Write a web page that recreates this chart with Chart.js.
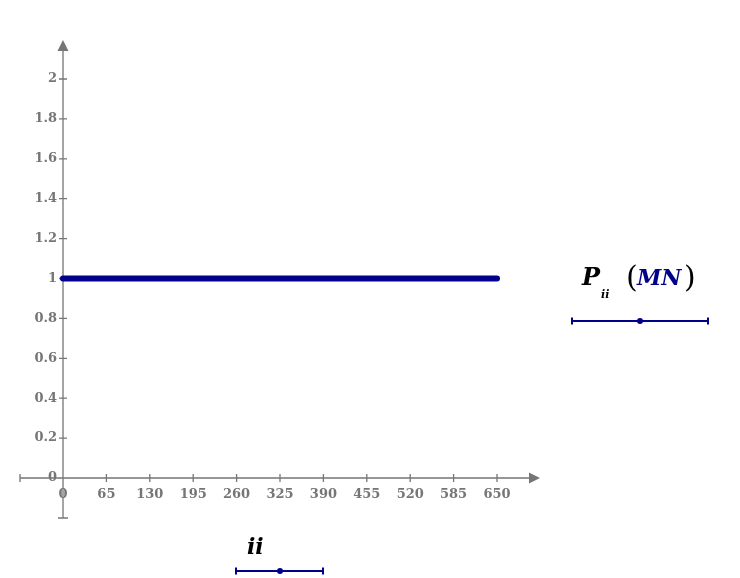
<!DOCTYPE html>
<html>
<head>
<meta charset="utf-8">
<script src="https://cdn.jsdelivr.net/npm/chart.js@4"></script>
<style>
  body { margin: 0; background: #fff; }
  #wrap { position: relative; width: 740px; height: 578px; }
  canvas { position: absolute; left: 0; top: 0; }
  .lbl { position: absolute; font-family: "DejaVu Serif", serif; font-weight: bold; font-style: italic; white-space: nowrap; line-height: 1; }
</style>
</head>
<body>
<div id="wrap">
  <canvas id="grafica" width="740" height="578"></canvas>
  <span class="lbl" style="left:247px; top:535px; font-size:22px; color:#000;">ii</span>
  <span class="lbl" style="left:582px; top:265px; font-size:24px; color:#000;">P</span>
  <span class="lbl" style="left:601px; top:289px; font-size:11px; color:#000;">ii</span>
  <span class="lbl" style="left:626px; top:262px; font-size:30px; color:#000; font-style:normal; font-weight:normal;">(</span>
  <span class="lbl" style="left:637px; top:266px; font-size:22px; color:#00008b;">MN</span>
  <span class="lbl" style="left:684px; top:262px; font-size:30px; color:#000; font-style:normal; font-weight:normal;">)</span>
</div>
<script>
// --- DATOS ---
const valoresII = [0, 650];
const valoresP = [1, 1];
const ticksX = [0, 65, 130, 195, 260, 325, 390, 455, 520, 585, 650];
const ticksY = [0, 0.2, 0.4, 0.6, 0.8, 1, 1.2, 1.4, 1.6, 1.8, 2];

const GRIS = '#767676';
const AZUL = '#00008b';

// --- EJES ESTILO MATHCAD ---
const ejesPlugin = {
    id: 'ejes',
    beforeDatasetsDraw(chart) {
        const ctx = chart.ctx;
        const sx = chart.scales.x, sy = chart.scales.y;
        const x0 = sx.getPixelForValue(0), y0 = sy.getPixelForValue(0);
        const left = chart.chartArea.left, right = chart.chartArea.right;
        const top = chart.chartArea.top, bottom = chart.chartArea.bottom;
        ctx.save();
        ctx.strokeStyle = GRIS; ctx.fillStyle = GRIS; ctx.lineWidth = 1.3;
        // eje x
        ctx.beginPath();
        ctx.moveTo(left, y0); ctx.lineTo(right - 8, y0);
        ctx.moveTo(left, y0 - 4); ctx.lineTo(left, y0 + 4);
        // eje y
        ctx.moveTo(x0, bottom); ctx.lineTo(x0, top + 8);
        ctx.moveTo(x0 - 5, bottom); ctx.lineTo(x0 + 5, bottom);
        ticksX.forEach(v => {
            const px = sx.getPixelForValue(v);
            if (v !== 0) { ctx.moveTo(px, y0 - 4); ctx.lineTo(px, y0 + 4); }
        });
        ticksY.forEach(v => {
            const py = sy.getPixelForValue(v);
            ctx.moveTo(x0 - 4, py); ctx.lineTo(x0 + 4, py);
        });
        ctx.stroke();
        // flechas
        ctx.beginPath();
        ctx.moveTo(right, y0); ctx.lineTo(right - 11, y0 - 5.5); ctx.lineTo(right - 11, y0 + 5.5); ctx.closePath();
        ctx.moveTo(x0, top); ctx.lineTo(x0 - 5.5, top + 11); ctx.lineTo(x0 + 5.5, top + 11); ctx.closePath();
        ctx.fill();
        // etiquetas
        ctx.font = 'bold 13px "DejaVu Serif", serif';
        ctx.textAlign = 'center'; ctx.textBaseline = 'middle';
        ticksX.forEach(v => ctx.fillText(String(v), sx.getPixelForValue(v), y0 + 17));
        ctx.textAlign = 'right';
        ticksY.forEach(v => ctx.fillText(String(v), x0 - 6, sy.getPixelForValue(v)));
        // marcadores de rango (ii y P)
        ctx.strokeStyle = AZUL; ctx.fillStyle = AZUL; ctx.lineWidth = 2;
        [[236, 323, 571, 280], [572, 708, 321, 640]].forEach(([a, b, y, c]) => {
            ctx.beginPath();
            ctx.moveTo(a, y); ctx.lineTo(b, y);
            ctx.moveTo(a, y - 3.5); ctx.lineTo(a, y + 3.5);
            ctx.moveTo(b, y - 3.5); ctx.lineTo(b, y + 3.5);
            ctx.stroke();
            ctx.beginPath(); ctx.arc(c, y, 3, 0, Math.PI * 2); ctx.fill();
        });
        ctx.restore();
    }
};

const ctx = document.getElementById('grafica').getContext('2d');
const miGrafica = new Chart(ctx, {
    type: 'scatter',
    data: {
        datasets: [{
            data: valoresII.map((x, i) => ({ x: x, y: valoresP[i] })),
            showLine: true,
            borderColor: AZUL,
            borderWidth: 6,
            borderCapStyle: 'round',
            pointRadius: 0
        }]
    },
    options: {
        responsive: false, animation: false,
        layout: { padding: { left: 20, right: 200, top: 40, bottom: 60 } },
        plugins: { legend: { display: false }, tooltip: { enabled: false } },
        scales: {
            x: { type: 'linear', display: false, min: -64.4, max: 714.4 },
            y: { type: 'linear', display: false, min: -0.2005, max: 2.1955 }
        }
    },
    plugins: [ejesPlugin]
});
</script>
</body>
</html>
